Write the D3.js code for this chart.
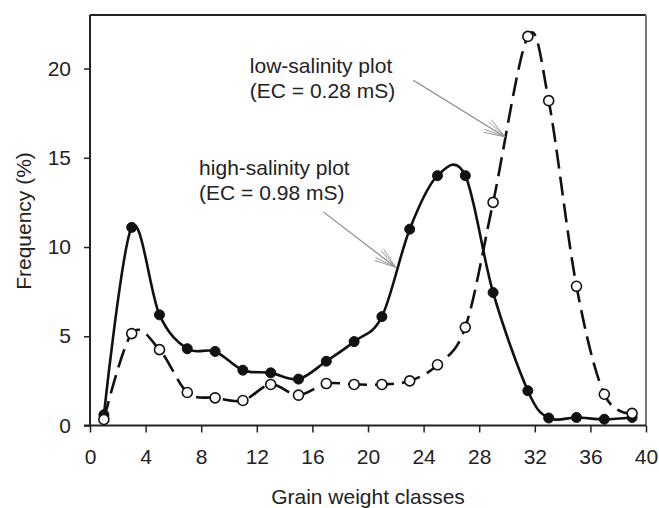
<!DOCTYPE html>
<html>
<head>
<meta charset="utf-8">
<script src="https://cdn.jsdelivr.net/npm/d3@7/dist/d3.min.js"></script>
<style>
  html, body { margin: 0; padding: 0; background: #fff; }
  svg { display: block; font-family: "Liberation Sans", Arial, sans-serif; }
</style>
</head>
<body>
<svg id="chart" width="659" height="508"></svg>
<script>
// ---- data ----
const grainClasses = [1, 3, 5, 7, 9, 11, 13, 15, 17, 19, 21, 23, 25, 27, 29, 31.5, 33, 35, 37, 39];
const highSalinity = [0.6, 11.1, 6.2, 4.3, 4.15, 3.1, 2.95, 2.6, 3.6, 4.7, 6.1, 11.0, 14.0, 14.0, 7.45, 1.95, 0.42, 0.45, 0.35, 0.45];
const lowSalinity  = [0.34, 5.15, 4.25, 1.85, 1.55, 1.4, 2.3, 1.7, 2.35, 2.3, 2.3, 2.5, 3.4, 5.5, 12.5, 21.8, 18.2, 7.8, 1.75, 0.68];
const xTicks = [0, 4, 8, 12, 16, 20, 24, 28, 32, 36, 40];
const yTicks = [0, 5, 10, 15, 20];
const xTitle = "Grain weight classes";
const yTitle = "Frequency (%)";
// annotations (data units)
const annotations = [
  { lines: ["low-salinity plot", "(EC = 0.28 mS)"], tx: 11.5, ty: 19.74, from: [23.26, 19.34], to: [29.86, 16.17] },
  { lines: ["high-salinity plot", "(EC = 0.98 mS)"], tx: 7.85, ty: 14.03, from: [16.78, 11.97], to: [21.98, 8.87] }
];

// ---- layout ----
const svg = d3.select("#chart");
const mLeft = 90, mRight = 646, mTop = 15, mBottom = 425.5;
const x = d3.scaleLinear().domain([0, 40]).range([mLeft, mRight]);
const y = d3.scaleLinear().domain([0, 23]).range([mBottom, mTop]);
const textColor = "#222";
const fontSize = 21;

// frame top & right
svg.append("line").attr("x1", mLeft).attr("x2", mRight).attr("y1", mTop).attr("y2", mTop)
  .attr("stroke", "#222").attr("stroke-width", 2);
svg.append("line").attr("x1", mRight).attr("x2", mRight).attr("y1", mTop).attr("y2", mBottom)
  .attr("stroke", "#777").attr("stroke-width", 2);

// axes
const xAxis = d3.axisBottom(x).tickValues(xTicks).tickSize(7).tickSizeOuter(0).tickPadding(17);
const gx = svg.append("g").attr("transform", `translate(0,${mBottom})`).call(xAxis);
const yAxis = d3.axisLeft(y).tickValues(yTicks).tickSize(6).tickSizeOuter(0).tickPadding(13);
const gy = svg.append("g").attr("transform", `translate(${mLeft},0)`).call(yAxis);
[gx, gy].forEach(g => {
  g.select(".domain").attr("stroke", "#222").attr("stroke-width", 2);
  g.selectAll(".tick line").attr("stroke", "#222").attr("stroke-width", 1.5);
  g.selectAll(".tick text").attr("fill", textColor).attr("font-size", fontSize)
    .attr("font-family", '"Liberation Sans", Arial, sans-serif');
});
gy.select(".domain").attr("d", `M0,${mBottom + 0.5}V${mTop}`);
gx.select(".domain").attr("d", `M${mLeft - 6},0H${mRight}`);

// axis titles
svg.append("text").attr("x", (mLeft + mRight) / 2).attr("y", 504)
  .attr("text-anchor", "middle").attr("font-size", fontSize).attr("fill", textColor)
  .text(xTitle);
svg.append("text").attr("transform", `translate(31,221) rotate(-90)`)
  .attr("text-anchor", "middle").attr("font-size", fontSize).attr("fill", textColor)
  .text(yTitle);

// lines
const line = d3.line().x(d => x(d[0])).y(d => y(d[1])).curve(d3.curveCardinal.tension(0));
const lowPts = grainClasses.map((g, i) => [g, lowSalinity[i]]);
const highPts = grainClasses.map((g, i) => [g, highSalinity[i]]);

svg.append("path").attr("d", line(lowPts)).attr("fill", "none")
  .attr("stroke", "#111").attr("stroke-width", 2.6).attr("stroke-dasharray", "19,8");
svg.append("path").attr("d", line(highPts)).attr("fill", "none")
  .attr("stroke", "#111").attr("stroke-width", 2.6);

// markers
svg.append("g").selectAll("circle").data(highPts).join("circle")
  .attr("cx", d => x(d[0])).attr("cy", d => y(d[1])).attr("r", 5)
  .attr("fill", "#111").attr("stroke", "#111").attr("stroke-width", 1);
svg.append("g").selectAll("circle").data(lowPts).join("circle")
  .attr("cx", d => x(d[0])).attr("cy", d => y(d[1])).attr("r", 5)
  .attr("fill", "#fff").attr("stroke", "#111").attr("stroke-width", 1.6);

// annotations
annotations.forEach(a => {
  const t = svg.append("text").attr("x", x(a.tx)).attr("y", y(a.ty))
    .attr("font-size", fontSize).attr("fill", textColor);
  a.lines.forEach((l, i) => {
    t.append("tspan").attr("x", x(a.tx)).attr("dy", i === 0 ? 0 : 25).text(l);
  });
  const x1 = x(a.from[0]), y1 = y(a.from[1]), x2 = x(a.to[0]), y2 = y(a.to[1]);
  svg.append("line").attr("x1", x1).attr("y1", y1).attr("x2", x2).attr("y2", y2)
    .attr("stroke", "#888").attr("stroke-width", 1.2);
  const ang = Math.atan2(y2 - y1, x2 - x1);
  const len = 22;
  [-0.34, -0.2, 0.2, 0.34].forEach(da => {
    const a2 = ang + Math.PI + da;
    svg.append("line").attr("x1", x2).attr("y1", y2)
      .attr("x2", x2 + len * Math.cos(a2)).attr("y2", y2 + len * Math.sin(a2))
      .attr("stroke", "#999").attr("stroke-width", 1);
  });
});
</script>
</body>
</html>
